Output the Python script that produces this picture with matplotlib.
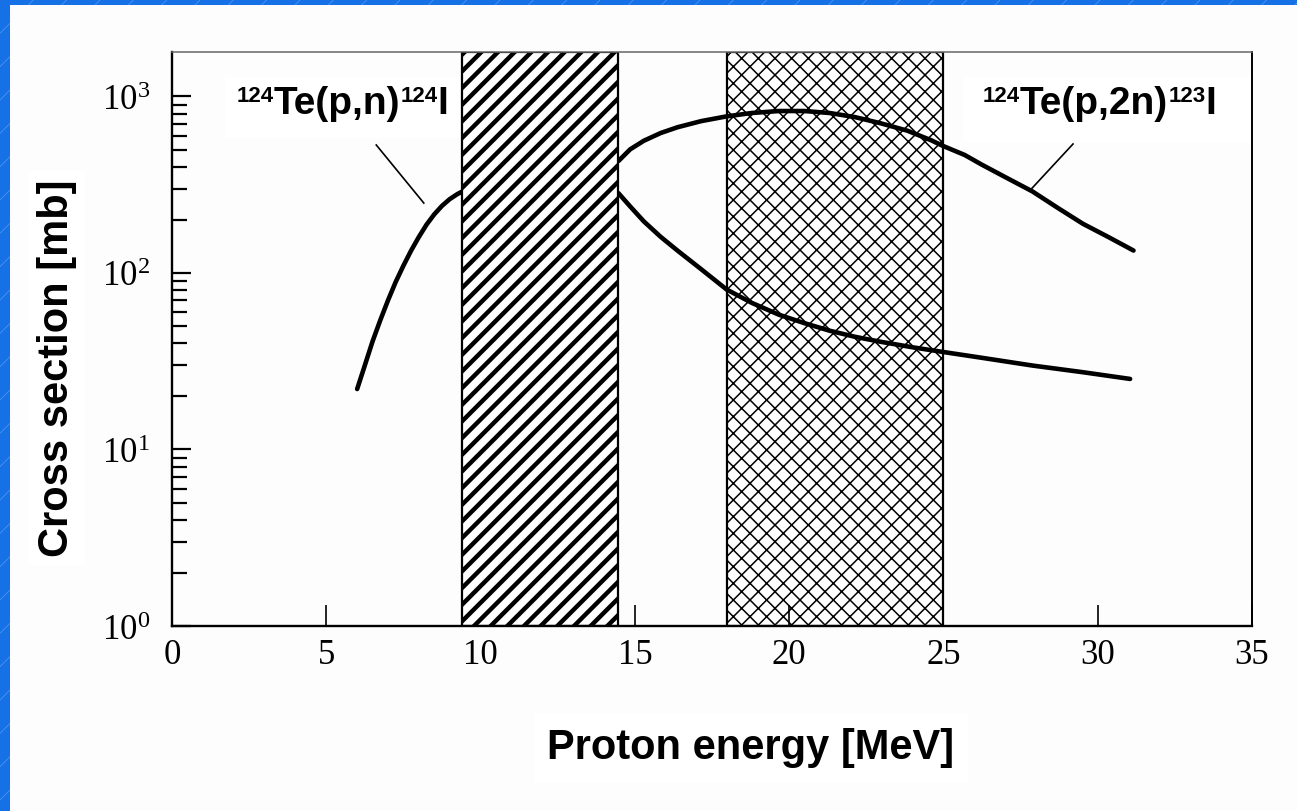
import math
import matplotlib
matplotlib.use('Agg')
import matplotlib.pyplot as plt
from matplotlib import ticker
from matplotlib.patches import Rectangle
from matplotlib.offsetbox import TextArea, HPacker, AnnotationBbox

# values
pn_lo_energy = [6.0, 6.25, 6.5, 6.75, 7.0, 7.25, 7.5, 7.75, 8.0, 8.25, 8.5, 8.75, 9.0, 9.25, 9.45]
pn_lo_xs = [22, 30, 41, 54, 70, 89, 110, 134, 160, 188, 215, 240, 262, 280, 292]
pn_hi_energy = [14.47, 14.85, 15.29, 15.84, 16.38, 17.15, 17.97, 18.79, 19.67, 20.49,
                21.31, 22.13, 22.95, 24.05, 24.98, 26.23, 27.88, 29.52, 31.05]
pn_hi_xs = [283, 238, 196, 160, 134, 105, 80.7, 67.7, 58.0, 52.0,
            47.1, 43.5, 40.8, 37.8, 35.7, 33.1, 29.9, 27.4, 25.1]
p2n_energy = [14.47, 14.85, 15.29, 15.84, 16.38, 17.15, 17.97, 18.79, 19.67, 20.49, 21.31, 22.13,
              22.95, 23.83, 24.59, 24.98, 25.69, 26.23, 27.06, 27.88, 28.70, 29.52, 30.34, 31.16]
p2n_xs = [431, 502, 561, 621, 669, 725, 771, 806, 827, 827, 806, 764,
          706, 640, 566, 525, 466, 412, 345, 290, 234, 190, 160, 134]

band_124 = (9.4, 14.45)
band_123 = (18.0, 25.0)
xticks = [0, 5, 10, 15, 20, 25, 30, 35]

label_pn = [('124', 16), ('Te(p,n)', 28), ('124', 16), ('I', 28)]
label_p2n = [('124', 16), ('Te(p,2n)', 28), ('123', 16), ('I', 28)]

plt.rcParams['mathtext.fontset'] = 'custom'
plt.rcParams['mathtext.rm'] = 'Liberation Serif'
plt.rcParams['mathtext.it'] = 'Liberation Serif:italic'

W, H = 1297, 811


def fpx(x, y):
    # pixel position (from top left) -> figure fraction
    return (x / W, 1 - y / H)


fig = plt.figure(figsize=(W / 100, H / 100), dpi=100)
fig.patch.set_facecolor('#1670e6')

stripes = Rectangle((0, 0), 1, 1, transform=fig.transFigure, facecolor='#1670e6',
                    edgecolor='#4d93ee', hatch='/', lw=0, zorder=-10)
if hasattr(stripes, 'set_hatch_linewidth'):
    stripes.set_hatch_linewidth(0.6)
panel = Rectangle((10 / W, 0), 1, (H - 5) / H, transform=fig.transFigure,
                  facecolor='#fdfdfd', edgecolor='none', zorder=-9)
fig.patches.extend([stripes, panel])

ax = fig.add_axes([172 / W, (H - 626) / H, 1080 / W, 574 / H])
ax.set_facecolor('#fdfdfd')
ax.set_yscale('log')
ax.set_xlim(0, 35)
ax.set_ylim(1, 1786)

# energy windows
with plt.rc_context({'hatch.linewidth': 3.2}):
    b1 = ax.axvspan(*band_124, facecolor='white', edgecolor='black', hatch='//',
                    lw=1.6, zorder=3)
if hasattr(b1, 'set_hatch_linewidth'):
    b1.set_hatch_linewidth(3.2)
with plt.rc_context({'hatch.linewidth': 1.1}):
    b2 = ax.axvspan(*band_123, facecolor='white', edgecolor='black', hatch='xx',
                    lw=1.6, zorder=1.5)
if hasattr(b2, 'set_hatch_linewidth'):
    b2.set_hatch_linewidth(1.1)

# excitation functions
for xs, ys in [(pn_lo_energy, pn_lo_xs), (pn_hi_energy, pn_hi_xs), (p2n_energy, p2n_xs)]:
    ax.plot(xs, ys, color='black', lw=3.3, solid_capstyle='round',
            solid_joinstyle='round', zorder=2)

# leader lines
ax.plot([6.62, 8.16], [531, 249], color='black', lw=1.2, zorder=2)
ax.plot([29.2, 27.87], [538, 302], color='black', lw=1.2, zorder=2)


def iso_label(parts, box, text_xy):
    (x0, y0), (x1, y1) = box
    bl = fpx(x0, y1)
    tr = fpx(x1, y0)
    ax.add_patch(Rectangle(bl, tr[0] - bl[0], tr[1] - bl[1], transform=fig.transFigure,
                           facecolor='white', edgecolor='none', clip_on=False, zorder=4.5))
    kids = [TextArea(t, textprops=dict(fontsize=s, fontweight='bold',
                                       family='Liberation Sans', color='black'))
            for t, s in parts]
    row = HPacker(children=kids, align='top', pad=0, sep=0)
    ab = AnnotationBbox(row, fpx(*text_xy), xycoords='figure fraction', box_alignment=(0, 1),
                        frameon=False, pad=0, zorder=5, annotation_clip=False)
    ax.add_artist(ab)


iso_label(label_pn, ((225, 77), (460, 138)), (237, 86))
iso_label(label_p2n, ((963, 77), (1250, 142)), (983, 86))

# axes styling
for s in ['left', 'bottom']:
    ax.spines[s].set_linewidth(1.7)
ax.spines['top'].set_linewidth(1.1)
ax.spines['top'].set_color('#666666')
ax.spines['right'].set_linewidth(1.4)
for sp in ax.spines.values():
    sp.set_zorder(4)

ax.set_xticks(xticks)
ax.set_xticklabels([str(v) for v in xticks], family='Liberation Serif', fontsize=25)
ax.yaxis.set_major_locator(ticker.LogLocator(base=10, numticks=10))
ax.yaxis.set_minor_locator(ticker.LogLocator(base=10, subs=range(2, 10), numticks=10))
ax.yaxis.set_major_formatter(ticker.FuncFormatter(lambda v, p: r'$10^{%d}$' % round(math.log10(v))))
ax.yaxis.set_minor_formatter(ticker.NullFormatter())
ax.tick_params(axis='x', which='major', direction='in', length=15, width=1.2, pad=9, top=False)
ax.tick_params(axis='y', which='major', direction='in', length=14, width=1.6, pad=16,
               right=False, labelsize=25)
ax.tick_params(axis='y', which='minor', direction='in', length=11, width=1.6, right=False)

fig.text(57 / W, (H - 368) / H, 'Cross section [mb]', rotation=90, ha='center', va='center',
         fontsize=30, fontweight='bold', family='Liberation Sans',
         bbox=dict(facecolor='white', edgecolor='none', pad=6))
fig.text(751 / W, (H - 748) / H, 'Proton energy [MeV]', ha='center', va='center',
         fontsize=30, fontweight='bold', family='Liberation Sans',
         bbox=dict(facecolor='white', edgecolor='none', pad=10))

fig.savefig('out.png', dpi=100, facecolor=fig.get_facecolor())
